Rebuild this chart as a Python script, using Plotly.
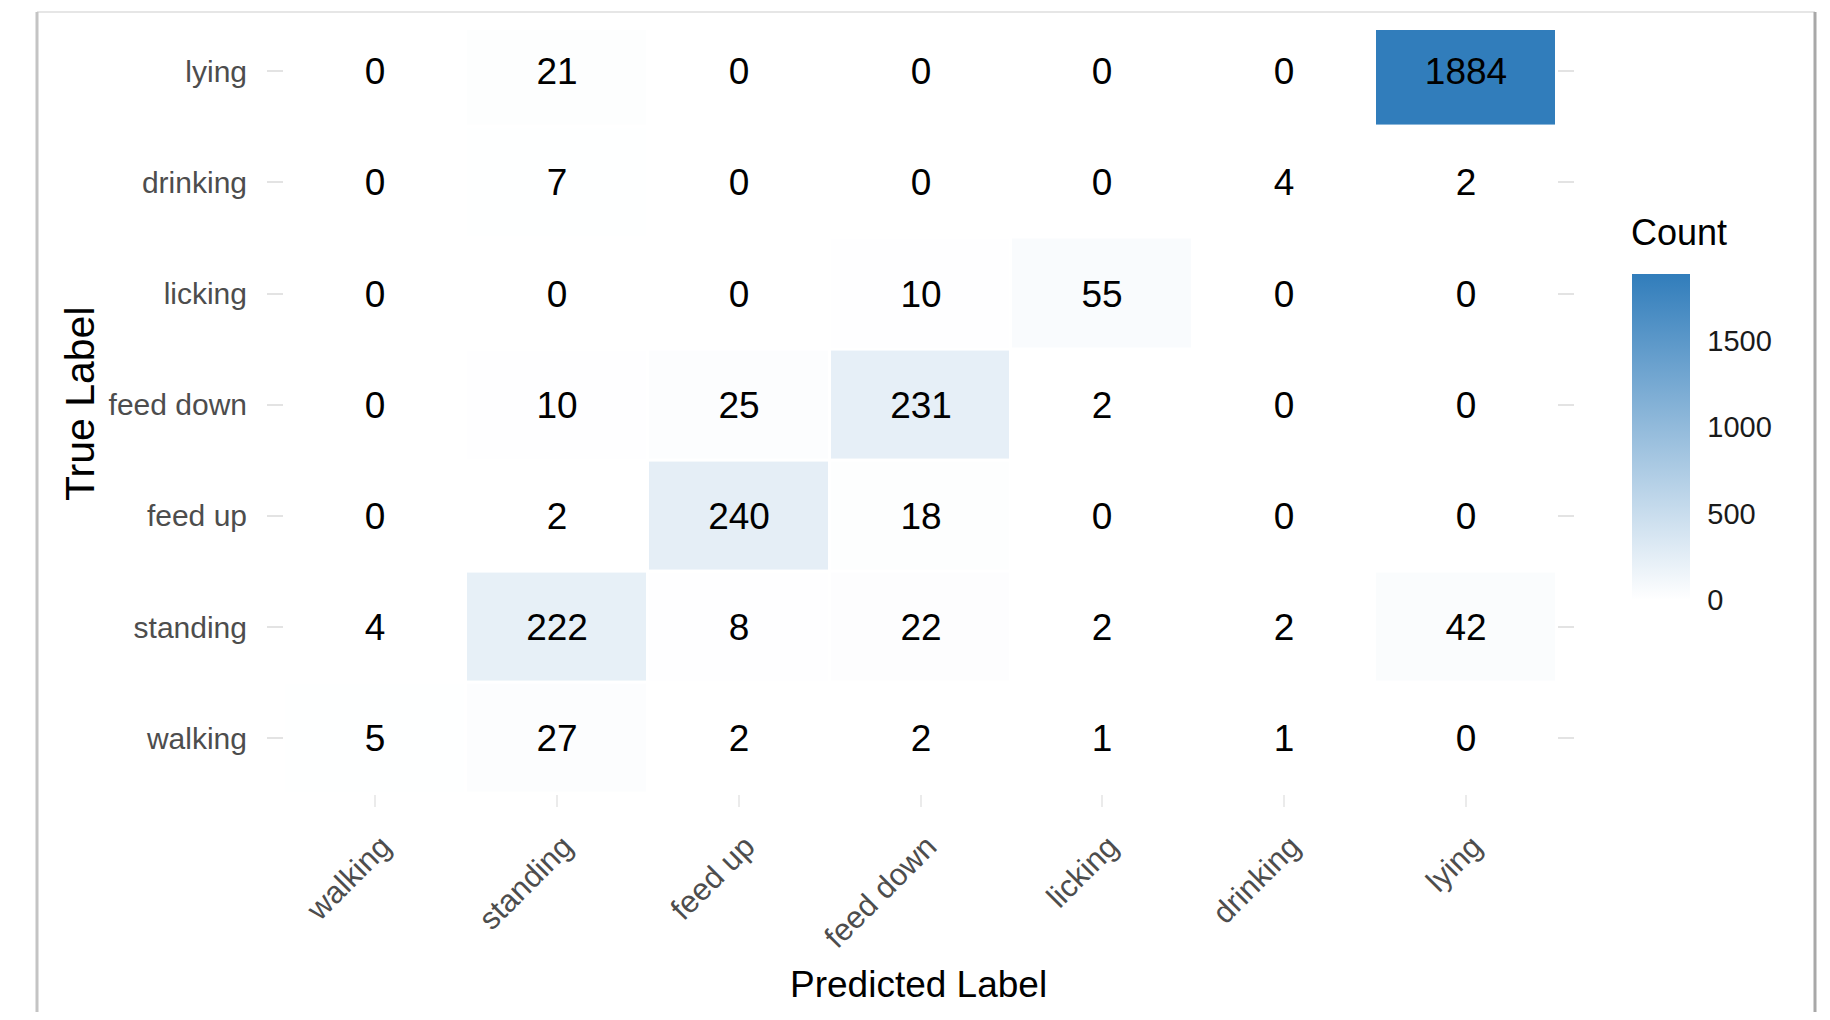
import plotly.graph_objects as go

# ---- data ----
predicted_labels = ["walking", "standing", "feed up", "feed down", "licking", "drinking", "lying"]
true_labels = ["walking", "standing", "feed up", "feed down", "licking", "drinking", "lying"]  # bottom -> top

row_walking   = [5, 27, 2, 2, 1, 1, 0]
row_standing  = [4, 222, 8, 22, 2, 2, 42]
row_feed_up   = [0, 2, 240, 18, 0, 0, 0]
row_feed_down = [0, 10, 25, 231, 2, 0, 0]
row_licking   = [0, 0, 0, 10, 55, 0, 0]
row_drinking  = [0, 7, 0, 0, 0, 4, 2]
row_lying     = [0, 21, 0, 0, 0, 0, 1884]

colorbar_ticks = [0, 500, 1000, 1500]

z = [row_walking, row_standing, row_feed_up, row_feed_down, row_licking, row_drinking, row_lying]

# ---- layout geometry (page pixels; the page body adds an 8px margin) ----
OFF = 8
W, H = 1830 - 2 * OFF, 1020 - 2 * OFF
L, R, T, B = 284 - OFF, 1557 - OFF, 30 - OFF, 794 - OFF
pw, ph = R - L, B - T

def px_x(x):
    return (x - OFF - L) / pw

def px_y(y):
    return (B - (y - OFF)) / ph

FONT = "Liberation Sans, Arial, sans-serif"

fig = go.Figure()
fig.add_trace(go.Heatmap(
    x=predicted_labels,
    y=true_labels,
    z=z,
    zmin=0,
    zmax=max(max(r) for r in z),
    colorscale=[[0, "#FFFFFF"], [1, "#317DBB"]],
    xgap=3,
    ygap=3,
    texttemplate="%{z}",
    textfont=dict(family=FONT, size=37, color="#000000"),
    hoverinfo="skip",
    colorbar=dict(
        thickness=58,
        thicknessmode="pixels",
        len=326,
        lenmode="pixels",
        x=px_x(1632),
        xanchor="left",
        y=px_y(274),
        yanchor="top",
        xpad=0,
        ypad=0,
        outlinewidth=0,
        tickvals=colorbar_ticks,
        ticks="outside",
        ticklen=12,
        tickcolor="#FFFFFF",
        tickwidth=2,
        tickfont=dict(family=FONT, size=29, color="#1A1A1A"),
    ),
))

fig.update_layout(
    width=W,
    height=H,
    margin=dict(l=L, r=W - R, t=T, b=H - B, autoexpand=False),
    paper_bgcolor="#FFFFFF",
    plot_bgcolor="#FFFFFF",
    xaxis=dict(
        type="category",
        categoryorder="array",
        categoryarray=predicted_labels,
        range=[-0.5, 6.5],
        showgrid=False,
        zeroline=False,
        showline=False,
        ticks="outside",
        ticklen=12,
        tickwidth=2,
        tickcolor="#EBEBEB",
        tickangle=-45,
        ticklabelstandoff=9,
        ticklabelshift=7,
        tickfont=dict(family=FONT, size=31, color="#4D4D4D"),
        automargin=False,
    ),
    yaxis=dict(
        type="category",
        categoryorder="array",
        categoryarray=true_labels,
        range=[-0.5, 6.37],
        showgrid=False,
        zeroline=False,
        showline=False,
        ticks="outside",
        ticklen=16,
        tickwidth=2,
        tickcolor="#E3E3E3",
        mirror="ticks",
        ticklabelstandoff=14,
        tickfont=dict(family=FONT, size=30, color="#4D4D4D"),
        automargin=False,
    ),
    annotations=[
        dict(text="True Label", xref="paper", yref="paper", x=px_x(80), y=px_y(403),
             textangle=-90, showarrow=False, xanchor="center", yanchor="middle",
             font=dict(family=FONT, size=41, color="#000000")),
        dict(text="Predicted Label", xref="paper", yref="paper", x=px_x(918), y=px_y(984),
             showarrow=False, xanchor="center", yanchor="middle",
             font=dict(family=FONT, size=37, color="#000000")),
        dict(text="Count", xref="paper", yref="paper", x=px_x(1629), y=px_y(233),
             showarrow=False, xanchor="left", yanchor="middle",
             font=dict(family=FONT, size=36, color="#000000")),
    ],
    shapes=[
        dict(type="line", xref="paper", yref="paper", x0=px_x(37), x1=px_x(1815), y0=px_y(12), y1=px_y(12),
             line=dict(color="#E6E6E6", width=2)),
        dict(type="line", xref="paper", yref="paper", x0=px_x(37), x1=px_x(37), y0=px_y(12), y1=px_y(1030),
             line=dict(color="#C4C4C4", width=3)),
        dict(type="line", xref="paper", yref="paper", x0=px_x(1815), x1=px_x(1815), y0=px_y(12), y1=px_y(1030),
             line=dict(color="#A8A8A8", width=3)),
    ],
)

fig.write_html("out.html")
